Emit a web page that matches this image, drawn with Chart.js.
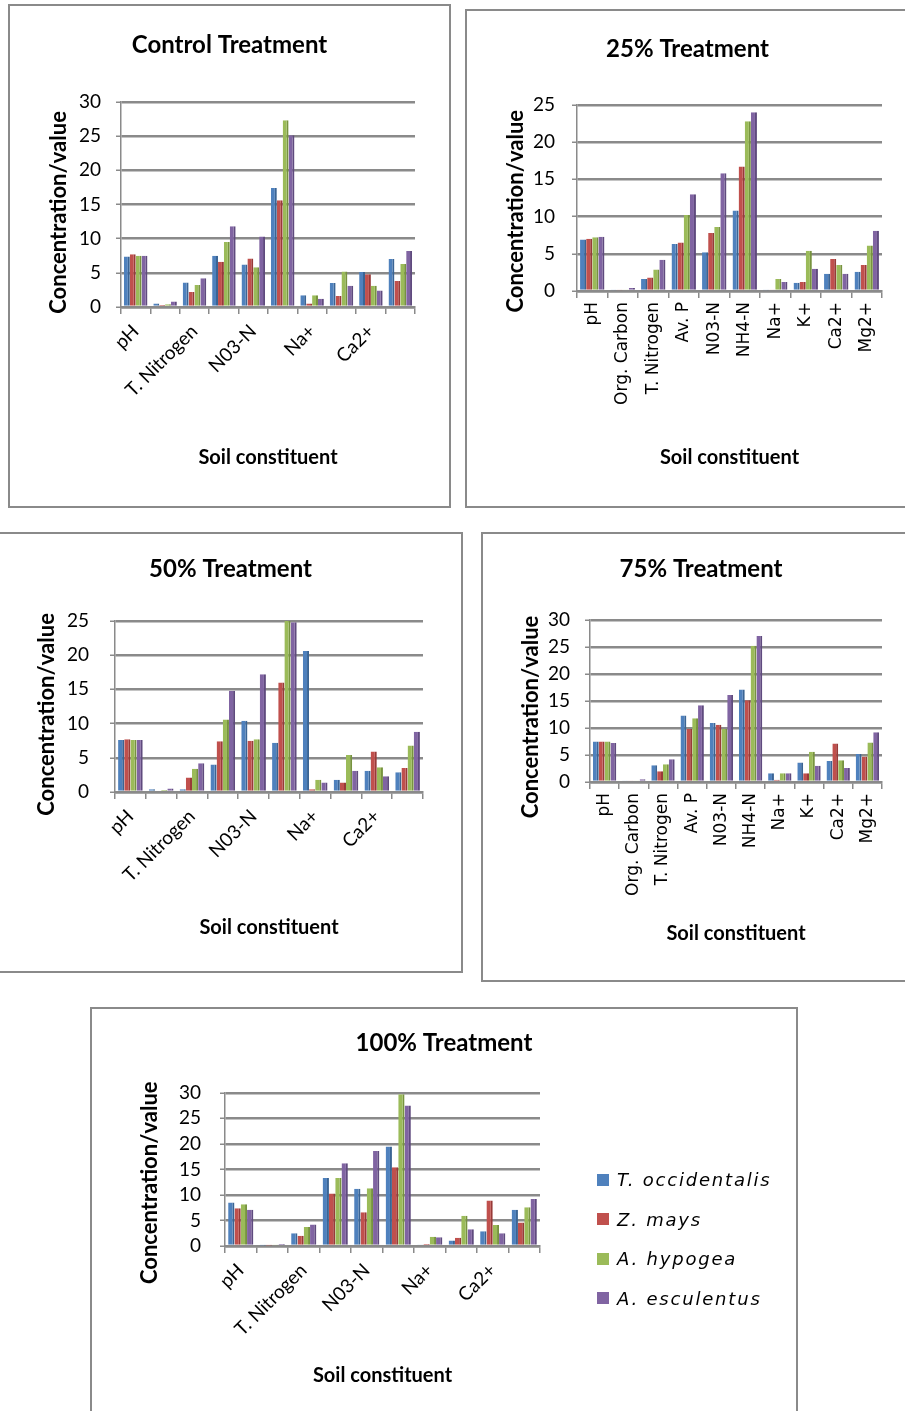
<!DOCTYPE html>
<html>
<head>
<meta charset="utf-8">
<script src="https://cdn.jsdelivr.net/npm/chart.js@4.4.1/dist/chart.umd.min.js"></script>
<style>
    html, body { margin: 0; padding: 0; background: #fff; width: 905px; height: 1411px; overflow: hidden; }
    .painel { position: absolute; border: 2px solid #8a8a8a; box-sizing: border-box; background: #fff; }
    .painel canvas { position: absolute; left: 0; top: 0; }
    #legenda { position: absolute; left: 597px; top: 1160px; margin: 0; padding: 0; list-style: none;
        font: italic 18px "DejaVu Sans"; letter-spacing: 1.8px; color: #000; }
    #legenda li { height: 39.5px; display: flex; align-items: center; }
    #legenda span.caixa { width: 12px; height: 12px; margin-right: 8px; display: inline-block; }
</style>
</head>
<body>
<div class="painel" id="p-controle" style="left:8px;top:4px;width:443px;height:504px"><canvas id="g-controle"></canvas></div>
<div class="painel" id="p-25" style="left:465px;top:9px;width:445px;height:499px"><canvas id="g-25"></canvas></div>
<div class="painel" id="p-50" style="left:-2px;top:532px;width:465px;height:441px"><canvas id="g-50"></canvas></div>
<div class="painel" id="p-75" style="left:481px;top:532px;width:440px;height:450px"><canvas id="g-75"></canvas></div>
<div class="painel" id="p-100" style="left:90px;top:1007px;width:708px;height:420px"><canvas id="g-100"></canvas></div>
<ul id="legenda"></ul>
<script>
const categorias = ['pH', 'Org. Carbon', 'T. Nitrogen', 'Av. P', 'N03-N', 'NH4-N', 'Na+', 'K+', 'Ca2+', 'Mg2+'];
const especies = ['T. occidentalis', 'Z. mays', 'A. hypogea', 'A. esculentus'];

// valores (ordem: T. occidentalis, Z. mays, A. hypogea, A. esculentus)
const controle = [
    [7.4, 0.5, 3.6, 7.5, 6.2, 17.4, 1.7, 3.5, 5.1, 7.0],
    [7.7, 0.3, 2.2, 6.6, 7.1, 15.6, 0.5, 1.6, 4.8, 3.8],
    [7.5, 0.4, 3.2, 9.5, 5.8, 27.3, 1.7, 5.2, 3.1, 6.3],
    [7.5, 0.8, 4.2, 11.8, 10.3, 25.1, 1.2, 3.1, 2.4, 8.2]
];
const trat25 = [
    [6.9, 0.1, 1.6, 6.3, 5.2, 10.8, 0.1, 1.1, 2.3, 2.6],
    [7.0, 0.1, 1.8, 6.5, 7.8, 16.7, 0.2, 1.2, 4.3, 3.5],
    [7.2, 0.2, 2.9, 10.2, 8.6, 22.8, 1.6, 5.4, 3.5, 6.1],
    [7.3, 0.4, 4.2, 13.0, 15.8, 24.0, 1.2, 3.0, 2.3, 8.1]
];
const trat50 = [
    [7.6, 0.4, 0.4, 4.0, 10.4, 7.2, 20.6, 1.8, 3.1, 2.9],
    [7.7, 0.2, 2.1, 7.4, 7.5, 16.0, 0.4, 1.4, 5.9, 3.5],
    [7.6, 0.3, 3.4, 10.6, 7.7, 25.0, 1.8, 5.4, 3.6, 6.8],
    [7.6, 0.5, 4.2, 14.8, 17.2, 24.8, 1.4, 3.1, 2.3, 8.8]
];
const trat75 = [
    [7.5, 0.2, 3.1, 12.3, 10.9, 17.1, 1.6, 3.6, 3.9, 5.2],
    [7.5, 0.2, 2.0, 9.8, 10.6, 15.1, 0.4, 1.6, 7.1, 4.7],
    [7.5, 0.3, 3.3, 11.8, 9.8, 25.2, 1.6, 5.6, 4.0, 7.3],
    [7.2, 0.5, 4.2, 14.2, 16.1, 27.0, 1.6, 3.0, 2.6, 9.2]
];
const trat100 = [
    [8.5, 0.1, 2.5, 13.3, 11.2, 19.5, 0.2, 1.1, 2.9, 7.1],
    [7.4, 0.1, 2.0, 10.3, 6.6, 15.4, 0.4, 1.6, 8.9, 4.6],
    [8.2, 0.15, 3.7, 13.3, 11.3, 29.7, 1.8, 5.9, 4.1, 7.6],
    [7.1, 0.4, 4.2, 16.2, 18.6, 27.5, 1.7, 3.3, 2.5, 9.2]
];

const CORES = ['#4F81BD', '#C0504D', '#9BBB59', '#8064A2'];
const CORES_ESCURAS = ['#3A6494', '#983A38', '#77933F', '#5F4A7E'];
const CINZA = '#8a8a8a';

// geometria de cada painel (area util do canvas e area de plotagem)
const PAINEIS = [
    { canvas: 'g-controle', titulo: 'Control Treatment', dados: controle, yMax: 30, w: 439, h: 500,
      plot: { l: 111, r: 405, t: 96, b: 301 }, tituloPad: [25, 42], yTituloPad: 36, yTituloDesc: 3, yTickPad: 15, xTituloPad: 36, rotulos: 'diag' },
    { canvas: 'g-25', titulo: '25% Treatment', dados: trat25, yMax: 25, w: 441, h: 495,
      plot: { l: 110, r: 415, t: 94, b: 280 }, tituloPad: [24, 41], yTituloPad: 36, yTituloDesc: 5, yTickPad: 17, xTituloPad: 36, rotulos: 'vert' },
    { canvas: 'g-50', titulo: '50% Treatment', dados: trat50, yMax: 25, w: 461, h: 437,
      plot: { l: 115, r: 423, t: 87, b: 258 }, tituloPad: [21, 37], yTituloPad: 34, yTituloDesc: 3, yTickPad: 21, xTituloPad: 31, rotulos: 'diag' },
    { canvas: 'g-75', titulo: '75% Treatment', dados: trat75, yMax: 30, w: 436, h: 446,
      plot: { l: 107, r: 399, t: 86, b: 248 }, tituloPad: [21, 36], yTituloPad: 35, yTituloDesc: 6, yTickPad: 15, xTituloPad: 34, rotulos: 'vert' },
    { canvas: 'g-100', titulo: '100% Treatment', dados: trat100, yMax: 30, w: 704, h: 416,
      plot: { l: 133, r: 448, t: 84, b: 237 }, tituloPad: [20, 35], yTituloPad: 45, yTituloDesc: 5, yTickPad: 19, xTituloPad: 37, rotulos: 'diag', legenda: true }
];

const legendaHtml = {
    id: 'legendaHtml',
    afterUpdate(chart) {
        if (!chart.options.plugins.legendaHtml) return;
        const ul = document.getElementById('legenda');
        ul.innerHTML = '';
        chart.options.plugins.legend.labels.generateLabels(chart).forEach(item => {
            const li = document.createElement('li');
            const caixa = document.createElement('span');
            caixa.className = 'caixa';
            caixa.style.background = item.fillStyle;
            li.appendChild(caixa);
            li.appendChild(document.createTextNode(item.text));
            ul.appendChild(li);
        });
    }
};

function criarGrafico(p) {
    const cv = document.getElementById(p.canvas);
    cv.width = p.w;
    cv.height = p.h;
    const diag = p.rotulos === 'diag';

    return new Chart(cv.getContext('2d'), {
        type: 'bar',
        data: {
            labels: categorias,
            datasets: especies.map((nome, i) => ({
                label: nome,
                data: p.dados[i],
                backgroundColor: CORES[i],
                borderColor: CORES_ESCURAS[i],
                borderWidth: { top: 0, right: 2, bottom: 0, left: 0 },
                borderSkipped: 'start',
                categoryPercentage: 0.8,
                barPercentage: 1.0
            }))
        },
        options: {
            responsive: false,
            animation: false,
            layout: { padding: 0 },
            plugins: {
                legend: { display: false },
                tooltip: { enabled: false },
                legendaHtml: !!p.legenda,
                title: {
                    display: true,
                    text: p.titulo,
                    color: '#000',
                    font: { family: 'Lato', size: 24, weight: 'bold' },
                    padding: { top: p.tituloPad[0], bottom: p.tituloPad[1] }
                }
            },
            scales: {
                y: {
                    min: 0,
                    max: p.yMax,
                    afterFit: s => { s.width = p.plot.l; },
                    ticks: { stepSize: 5, autoSkip: false, color: '#000', font: { family: 'Lato', size: 19 }, padding: p.yTickPad },
                    grid: { color: CINZA, lineWidth: 2.5, tickLength: 5, tickColor: CINZA, tickWidth: 1.5 },
                    border: { color: CINZA, width: 1.5 },
                    title: {
                        display: true,
                        // espacos no fim descem um pouco o texto, como no original
                        text: 'Concentration/value' + '\u00a0'.repeat(p.yTituloDesc),
                        color: '#000',
                        font: { family: 'Lato', size: 22, weight: 'bold' },
                        padding: { top: p.yTituloPad, bottom: 0 }
                    }
                },
                // eixo vazio a direita so para reservar o espaco ate a borda do painel
                margem: {
                    type: 'linear',
                    position: 'right',
                    afterFit: s => { s.width = p.w - p.plot.r; },
                    ticks: { display: false },
                    grid: { display: false },
                    border: { display: false }
                },
                x: {
                    afterFit: s => { s.height = p.h - p.plot.b; },
                    ticks: {
                        color: '#000',
                        autoSkip: false,
                        minRotation: diag ? 45 : 90,
                        maxRotation: diag ? 45 : 90,
                        padding: diag ? 6 : 4,
                        font: diag ? { family: 'Lato', size: 19 } : { family: 'DejaVu Sans', size: 17 },
                        callback: function (v, i) {
                            return (!diag || i % 2 === 0) ? this.getLabelForValue(v) : '';
                        }
                    },
                    grid: { drawOnChartArea: false, color: CINZA, lineWidth: 1.5, tickLength: 7 },
                    border: { color: CINZA, width: 2.5 },
                    title: {
                        display: true,
                        text: 'Soil constituent',
                        color: '#000',
                        font: { family: 'Lato', size: 20, weight: 'bold' },
                        padding: { top: 0, bottom: p.xTituloPad }
                    }
                }
            }
        },
        plugins: [legendaHtml]
    });
}

PAINEIS.forEach(criarGrafico);
</script>
</body>
</html>
